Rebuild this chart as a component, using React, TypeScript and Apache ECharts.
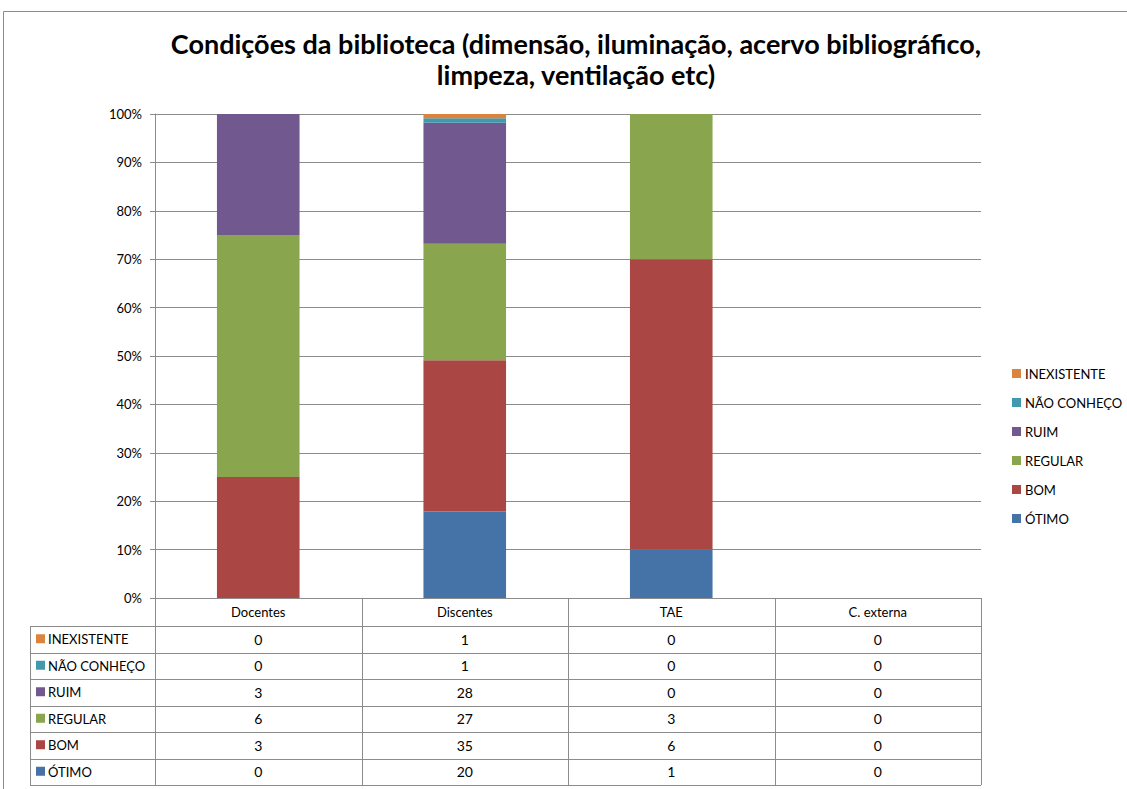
import React, { useEffect, useRef } from "react";
import * as echarts from "echarts";

const categories = ["Docentes", "Discentes", "TAE", "C. externa"];
const seriesNames = ["ÓTIMO", "BOM", "REGULAR", "RUIM", "NÃO CONHEÇO", "INEXISTENTE"];
const otimo = [0, 20, 1, 0];
const bom = [3, 35, 6, 0];
const regular = [6, 27, 3, 0];
const ruim = [3, 28, 0, 0];
const naoConheco = [0, 1, 0, 0];
const inexistente = [0, 1, 0, 0];
const colors = ["#4572A7", "#AA4643", "#89A54E", "#71588F", "#4198AF", "#DB843D"];
const yTicks = [0, 10, 20, 30, 40, 50, 60, 70, 80, 90, 100];

const FONT = "Lato, 'Open Sans', sans-serif";
const LINE = "#8c8c8c";

export default function App() {
  const ref = useRef<HTMLDivElement>(null);
  useEffect(() => {
    const el = ref.current!;
    const chart = echarts.init(el, null, { renderer: "svg" });
    const counts = [otimo, bom, regular, ruim, naoConheco, inexistente];
    const totals = categories.map((_, c) => counts.reduce((s, arr) => s + arr[c], 0));
    const pct = counts.map((arr) => arr.map((v, c) => (totals[c] ? (v / totals[c]) * 100 : 0)));

    const gridLeft = 155, gridRight = 981, gridTop = 114, gridBottom = 598;
    chart.setOption({
      animation: false,
      title: {
        text: "Condições da biblioteca (dimensão, iluminação, acervo bibliográfico,\nlimpeza, ventilação etc)",
        left: 571,
        textAlign: "center",
        top: 23,
        textStyle: { fontFamily: FONT, fontWeight: "bold", fontSize: 27, lineHeight: 31, color: "#000" },
      },
      legend: {
        orient: "vertical",
        left: 1007,
        top: 362,
        itemWidth: 9,
        itemHeight: 9,
        itemGap: 16,
        icon: "rect",
        data: [...seriesNames].reverse(),
        textStyle: { fontFamily: FONT, fontSize: 13, color: "#000", padding: [0, 0, 0, -1] },
      },
      grid: { left: gridLeft, right: 1127 - gridRight, top: gridTop, bottom: 789 - gridBottom },
      xAxis: {
        type: "category",
        data: categories,
        axisLine: { show: false },
        axisTick: { show: false },
        axisLabel: { show: false },
      },
      yAxis: {
        type: "value",
        min: yTicks[0],
        max: yTicks[yTicks.length - 1],
        interval: yTicks[1] - yTicks[0],
        axisLine: { show: true, lineStyle: { color: LINE, width: 1 } },
        axisTick: { show: true, length: 5, lineStyle: { color: LINE } },
        axisLabel: { formatter: "{value}%", fontFamily: FONT, fontSize: 13, color: "#000", margin: 13 },
        splitLine: { show: true, lineStyle: { color: LINE, width: 1 } },
      },
      series: seriesNames.map((name, i) => ({
        name,
        type: "bar",
        stack: "total",
        barWidth: "40%",
        data: pct[i],
        itemStyle: { color: colors[i] },
      })),
    });

    // Data table below the plot
    const colCenters = categories.map((c) => chart.convertToPixel({ xAxisIndex: 0 }, c) as number);
    const half = (gridRight - gridLeft) / categories.length / 2;
    const tableLeft = 30;
    const headerTop = gridBottom;
    const headerBottom = 626;
    const rowH = 26.5;
    const rows = [...seriesNames].reverse();
    const rowColors = [...colors].reverse();
    const rowData = [...counts].reverse();
    const tableBottom = headerBottom + rowH * rows.length;
    const g: any[] = [];
    const hl = (x1: number, x2: number, y: number) =>
      g.push({ type: "line", shape: { x1, y1: y, x2, y2: y }, style: { stroke: LINE, lineWidth: 1 }, z: 10 });
    const vl = (x: number, y1: number, y2: number) =>
      g.push({ type: "line", shape: { x1: x, y1, x2: x, y2 }, style: { stroke: LINE, lineWidth: 1 }, z: 10 });
    // outer frame
    g.push({ type: "rect", shape: { x: 3.5, y: 11.5, width: 1200, height: 900 }, style: { fill: "none", stroke: LINE, lineWidth: 1 }, z: 1 });
    hl(gridLeft, gridRight, headerTop + 0.5);
    const bounds = [gridLeft, ...colCenters.map((c) => c + half)];
    bounds.forEach((x) => vl(Math.round(x) + 0.5, headerTop, tableBottom));
    vl(tableLeft + 0.5, headerBottom, tableBottom);
    for (let r = 0; r <= rows.length; r++) hl(tableLeft, gridRight, Math.round(headerBottom + r * rowH) + 0.5);
    categories.forEach((c, i) =>
      g.push({
        type: "text",
        x: colCenters[i],
        y: (headerTop + headerBottom) / 2,
        style: { text: c, fill: "#000", font: `13px ${FONT}`, align: "center", verticalAlign: "middle" },
        z: 11,
      })
    );
    rows.forEach((name, r) => {
      const cy = headerBottom + r * rowH + rowH / 2;
      g.push({ type: "rect", shape: { x: 36, y: cy - 5, width: 9, height: 9 }, style: { fill: rowColors[r] }, z: 11 });
      g.push({
        type: "text",
        x: 48,
        y: cy,
        style: { text: name, fill: "#000", font: `13px ${FONT}`, align: "left", verticalAlign: "middle" },
        z: 11,
      });
      rowData[r].forEach((v, c) =>
        g.push({
          type: "text",
          x: colCenters[c],
          y: cy,
          style: { text: String(v), fill: "#000", font: `14px ${FONT}`, align: "center", verticalAlign: "middle" },
          z: 11,
        })
      );
    });
    chart.setOption({ graphic: g });
    return () => chart.dispose();
  }, []);
  return <div ref={ref} style={{ position: "fixed", left: 0, top: 0, width: 1127, height: 789, background: "#fff" }} />;
}
